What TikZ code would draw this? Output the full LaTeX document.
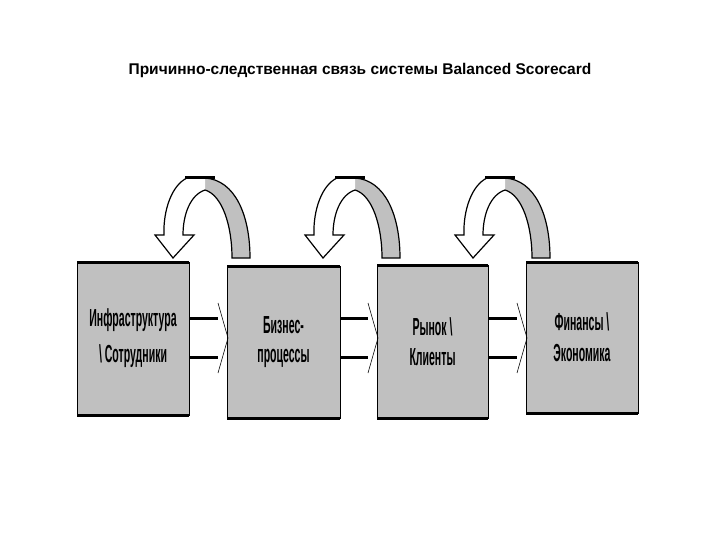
\documentclass[tikz,border=0pt]{standalone}
\usepackage{fontspec}
\setmainfont{Liberation Sans}
\usepackage{graphicx}
\definecolor{boxgray}{RGB}{192,192,192}
\begin{document}
\begin{tikzpicture}[x=1pt,y=-1pt,
  boxst/.style={fill=boxgray,draw=black,line width=0.8pt},
  lbl/.style={font=\bfseries\fontsize{17}{17}\selectfont,align=center},
  band/.style={draw=black,line width=1.2pt,line join=miter}]
\useasboundingbox[fill=white] (0,0) rectangle (720,540);
\node[font=\bfseries\fontsize{15.5}{18}\selectfont] (title) at (360,70) {Причинно-следственная связь системы Balanced Scorecard};
\foreach \n/\xa/\xb/\ya/\yb in {1/77/189/262/415, 2/227/340/266/418, 3/377/488/265/418, 4/526/638/262/413}{
  \fill[boxgray] (\xa,\ya) rectangle (\xb,\yb);
  \draw[line width=0.8pt] (\xa,\ya) rectangle (\xb,\yb);
  \draw[line width=3pt] (\xa,\ya) -- (\xb,\ya);
  \draw[line width=3pt] (\xa,\yb) -- (\xb,\yb);
  \coordinate (b\n) at ({(\xa+\xb)/2},{(\ya+\yb)/2});
}
\node[lbl] (t1) at (b1) {\scalebox{0.62}[1.45]{Инфраструктура}\\[12pt]\scalebox{0.62}[1.45]{\textbackslash\ Сотрудники}};
\node[lbl] (t2) at (b2) {\scalebox{0.62}[1.45]{Бизнес-}\\[12pt]\scalebox{0.62}[1.45]{процессы}};
\node[lbl] (t3) at (b3) {\scalebox{0.62}[1.45]{Рынок \textbackslash}\\[12pt]\scalebox{0.62}[1.45]{Клиенты}};
\node[lbl] (t4) at (b4) {\scalebox{0.62}[1.45]{Финансы \textbackslash}\\[12pt]\scalebox{0.62}[1.45]{Экономика}};
% horizontal arrows
\foreach \s/\xa in {0/189,150/340,299/488}{
  \draw[line width=3pt] (\xa,318) -- (218+\s,318);
  \draw[line width=3pt] (\xa,357) -- (218+\s,357);
  \draw[line width=0.6pt] (218+\s,303) -- (228+\s,338) -- (218+\s,373);
}
% curved arrows
\foreach \s in {0,150,300}{
  \begin{scope}[xshift=\s]
  \fill[boxgray] (205,178) .. controls (235,180) and (250,215) .. (250,258) -- (232,258) .. controls (232,225) and (222,195) .. (205,190) -- cycle;
  \draw[band] (205,178) .. controls (235,180) and (250,215) .. (250,258) -- (232,258) .. controls (232,225) and (222,195) .. (205,190);
  \fill[white] (205,178) -- (187,178) .. controls (172,185) and (163,210) .. (164,235) -- (155,235) -- (173,258) -- (194,235) -- (183,235) .. controls (183,215) and (190,195) .. (205,190) -- cycle;
  \draw[band] (205,178) -- (187,178) .. controls (172,185) and (163,210) .. (164,235) -- (155,235) -- (173,258) -- (194,235) -- (183,235) .. controls (183,215) and (190,195) .. (205,190);
  \draw[line width=3pt] (185,178) -- (215,178);
  \end{scope}
}
\end{tikzpicture}
\end{document}
